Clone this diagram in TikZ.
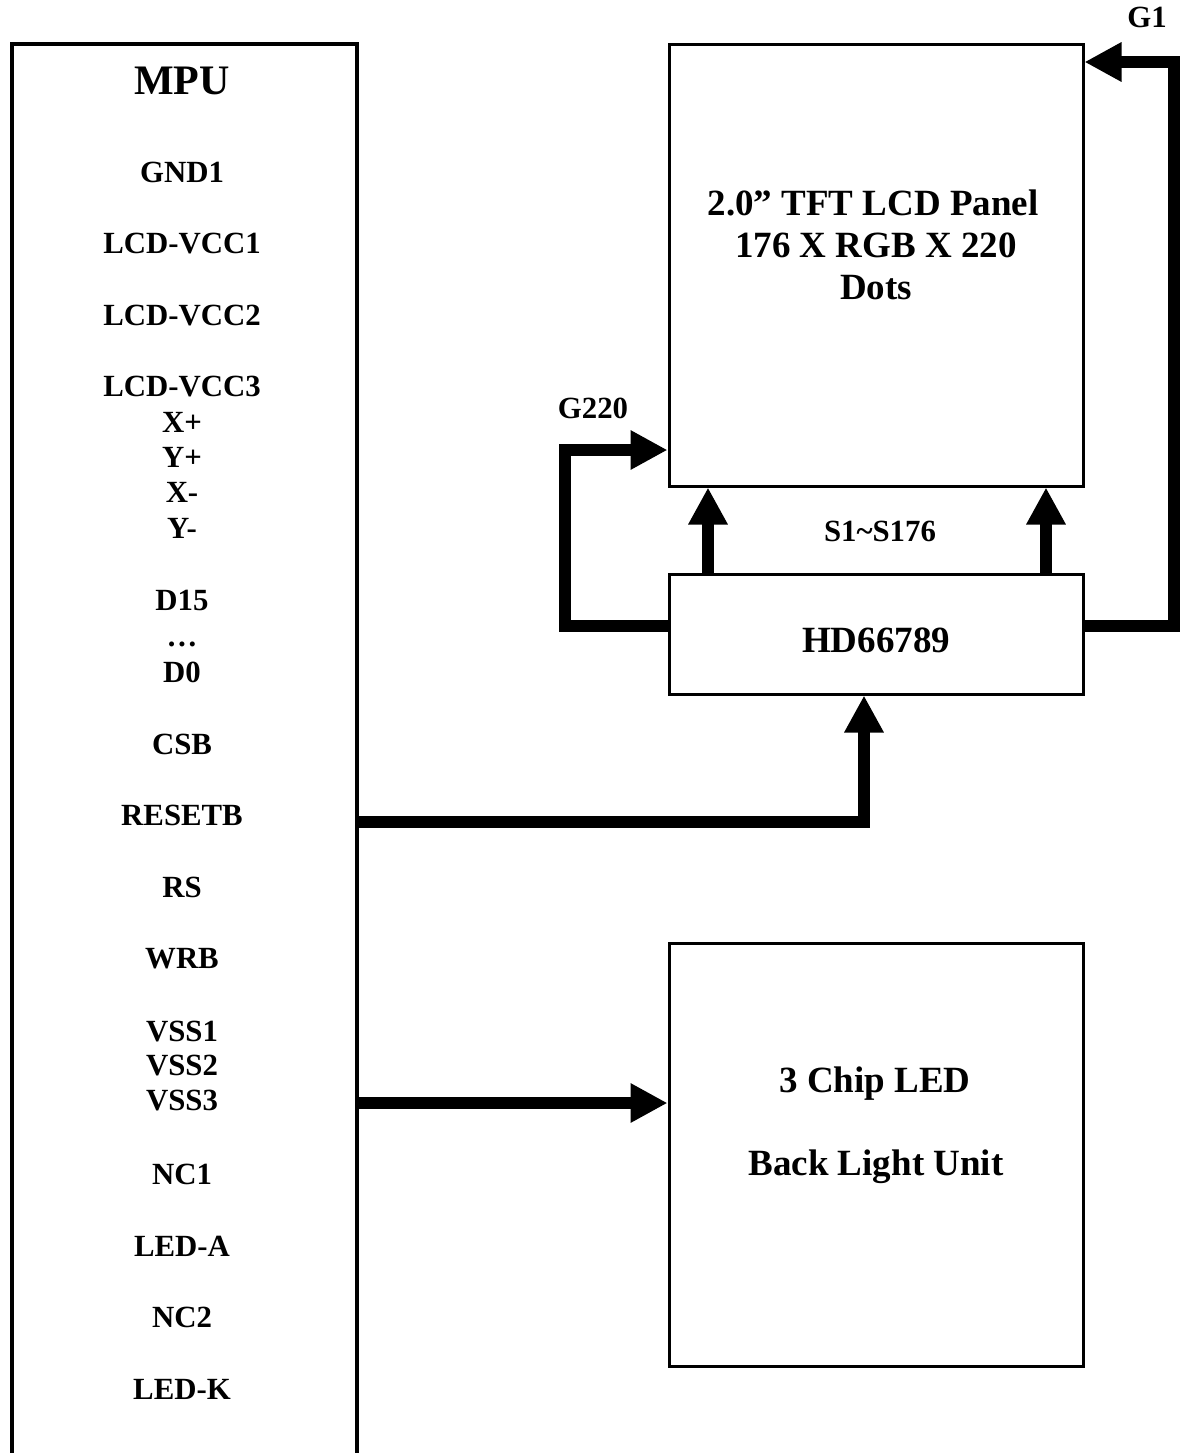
\documentclass[tikz,border=0pt]{standalone}
\usepackage{fontspec}
\setmainfont{Liberation Serif}
\usetikzlibrary{arrows.meta}
\begin{document}
\begin{tikzpicture}[x=1pt,y=-1pt,
  box/.style={draw, line width=3pt, inner sep=0pt, rectangle},
  bus/.style={line width=12pt, line join=miter, -{Triangle[length=37pt 0 0, width=37pt 0 0]}},
  lab/.style={font=\fontsize{30.8}{36}\selectfont\bfseries, anchor=base, inner sep=0pt},
  big/.style={font=\fontsize{37}{42}\selectfont\bfseries, anchor=base, inner sep=0pt}]
\useasboundingbox (0,0) rectangle (1185,1453);

% boxes
\node[box, line width=4.5pt, minimum width=345pt, minimum height=1436pt] (mpu) at (184.5,762) {};
\node[box, minimum width=414pt, minimum height=441pt] (panel) at (876,265.5) {};
\node[box, minimum width=414pt, minimum height=120pt] (hd) at (876,634) {};
\node[box, minimum width=414pt, minimum height=423pt] (blu) at (876,1154.5) {};

% MPU texts
\node[anchor=base, inner sep=0pt, font=\fontsize{42}{48}\selectfont\bfseries] (mputitle) at (182,95) {MPU};
\foreach \yy/\lbl [count=\i] in {182/GND1, 253/LCD-VCC1, 325/LCD-VCC2, 396/LCD-VCC3,
  432/X+, 467/Y+, 502/X-, 538/Y-, 610/D15, 646/…, 682/D0, 754/CSB, 825/RESETB,
  897/RS, 968/WRB, 1041/VSS1, 1075/VSS2, 1110/VSS3, 1184/NC1, 1256/LED-A,
  1327/NC2, 1399/LED-K}
  \node[lab] (m\i) at (182,\yy) {\lbl};

% panel texts
\node[big] (p1) at (873,215) {2.0” TFT LCD Panel};
\node[big] (p2) at (876,257) {176 X RGB X 220};
\node[big] (p3) at (876,299) {Dots};
\node[big] (hdt) at (876,652) {HD66789};
\node[big] (b1) at (875,1092) {3 Chip LED};
\node[big] (b2) at (876,1175) {Back Light Unit};
\node[lab] (s) at (880,541) {S1\char"7E S176};
\node[lab] (g220) at (593,418) {G220};
\node[lab] (g1) at (1147,28) {G1};

% connector coordinates
\coordinate (ga) at (565,626);
\coordinate (gb) at (565,450);
\coordinate (ha) at (1174,626);
\coordinate (hb) at (1174,62);
\coordinate (sx1) at (708,0);
\coordinate (sx2) at (1046,0);
\coordinate (rst) at (864,822);
\coordinate (bl) at (0,1103);

% connectors
\draw[bus] (hd.west |- ga) -- (ga) -- (gb) -- (panel.west |- gb);
\draw[bus] (hd.east |- ha) -- (ha) -- (hb) -- (panel.east |- hb);
\draw[bus] (hd.north -| sx1) -- (panel.south -| sx1);
\draw[bus] (hd.north -| sx2) -- (panel.south -| sx2);
\draw[bus] (mpu.east |- rst) -- (rst) -- (hd.south -| rst);
\draw[bus] (mpu.east |- bl) -- (blu.west |- bl);
\end{tikzpicture}
\end{document}
